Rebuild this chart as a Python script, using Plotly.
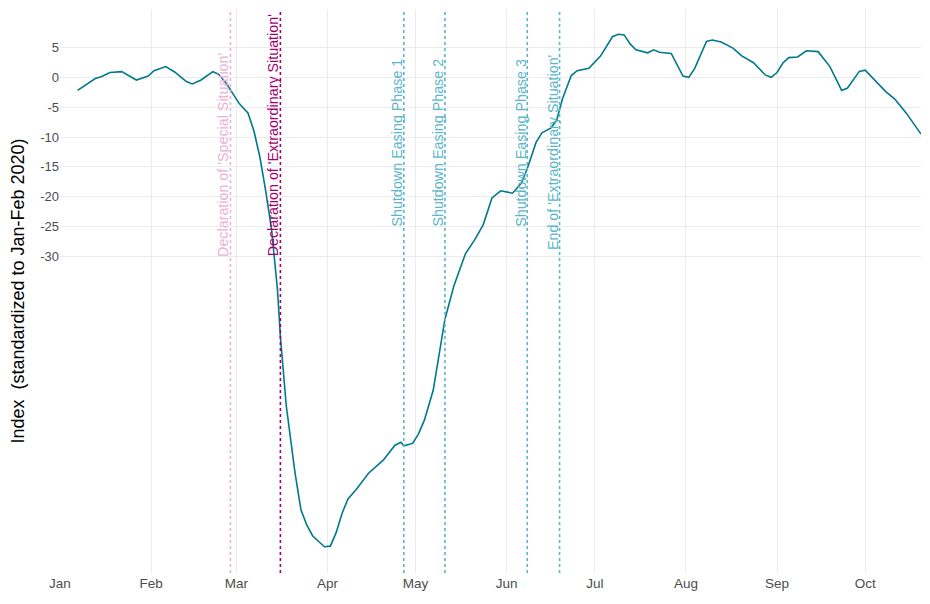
import plotly.graph_objects as go

# ---- data ----
dates = [
    "2020-01-07", "2020-01-13", "2020-01-15", "2020-01-18", "2020-01-22", "2020-01-25",
    "2020-01-27", "2020-01-31", "2020-02-02", "2020-02-06", "2020-02-09", "2020-02-13",
    "2020-02-15", "2020-02-18", "2020-02-22", "2020-02-24", "2020-02-27", "2020-02-28",
    "2020-03-01", "2020-03-02", "2020-03-05", "2020-03-07", "2020-03-09", "2020-03-11",
    "2020-03-13", "2020-03-15", "2020-03-16", "2020-03-18", "2020-03-21", "2020-03-23",
    "2020-03-25", "2020-03-27", "2020-03-31", "2020-04-02", "2020-04-04", "2020-04-06",
    "2020-04-08", "2020-04-11", "2020-04-15", "2020-04-20", "2020-04-24", "2020-04-26",
    "2020-04-27", "2020-04-30", "2020-05-02", "2020-05-04", "2020-05-07", "2020-05-10",
    "2020-05-11", "2020-05-14", "2020-05-18", "2020-05-21", "2020-05-24", "2020-05-27",
    "2020-05-30", "2020-06-03", "2020-06-06", "2020-06-08", "2020-06-11", "2020-06-13",
    "2020-06-16", "2020-06-18", "2020-06-20", "2020-06-23", "2020-06-25", "2020-06-29",
    "2020-07-01", "2020-07-03", "2020-07-07", "2020-07-09", "2020-07-11", "2020-07-13",
    "2020-07-15", "2020-07-19", "2020-07-21", "2020-07-23", "2020-07-27", "2020-07-31",
    "2020-08-02", "2020-08-04", "2020-08-08", "2020-08-10", "2020-08-13", "2020-08-17",
    "2020-08-20", "2020-08-24", "2020-08-28", "2020-08-30", "2020-09-01", "2020-09-03",
    "2020-09-05", "2020-09-08", "2020-09-11", "2020-09-15", "2020-09-19", "2020-09-23",
    "2020-09-25", "2020-09-29", "2020-10-01", "2020-10-08", "2020-10-11", "2020-10-15",
    "2020-10-20",
]
index_values = [
    -2.2, -0.2, 0.1, 0.8, 0.95, 0.1,
    -0.45, 0.2, 1.1, 1.8, 0.9, -0.7,
    -1.1, -0.45, 0.95, 0.5, -1.3, -2.1,
    -3.8, -4.4, -6.0, -9.0, -13.3, -19.0,
    -25.5, -35.5, -43.4, -55.0, -66.3, -72.4,
    -75.0, -76.8, -78.6, -78.5, -76.2, -73.0,
    -70.6, -68.9, -66.3, -64.1, -61.6, -61.1,
    -61.7, -61.3, -59.7, -57.4, -52.4, -43.5,
    -40.5, -35.0, -29.5, -27.3, -24.7, -20.2,
    -19.0, -19.4, -17.7, -15.3, -10.9, -9.3,
    -8.5, -7.2, -3.6, 0.3, 1.1, 1.5,
    2.6, 3.6, 6.8, 7.2, 7.1, 5.6,
    4.6, 4.1, 4.6, 4.2, 4.0, 0.2,
    0.0, 1.5, 6.0, 6.25, 5.9, 4.9,
    3.6, 2.45, 0.4, 0.0, 0.8, 2.4,
    3.3, 3.4, 4.45, 4.3, 1.8, -2.2,
    -1.8, 1.0, 1.2, -2.4, -3.6, -6.0,
    -9.5,
]

event_dates = ["2020-02-28", "2020-03-16", "2020-04-27", "2020-05-11", "2020-06-08", "2020-06-19"]
event_labels = [
    "Declaration of 'Special Situation'",
    "Declaration of 'Extraordinary Situation'",
    "Shutdown Easing Phase 1",
    "Shutdown Easing Phase 2",
    "Shutdown Easing Phase 3",
    "End of 'Extraordinary Situation'",
]
event_label_y = [-30, -30, -25, -25, -25, -29]
event_colors = ["#ebb1d6", "#a0006e", "#5cb5c9", "#5cb5c9", "#5cb5c9", "#5cb5c9"]

y_ticks = [5, 0, -5, -10, -15, -20, -25, -30]
y_title = "Index\u00a0 (standardized to Jan-Feb 2020)"

# ---- figure ----
fig = go.Figure()
fig.add_trace(go.Scatter(
    x=dates, y=index_values, mode="lines",
    line=dict(color="#00798c", width=1.6),
    hoverinfo="x+y", showlegend=False,
))

for d, lab, ly, col in zip(event_dates, event_labels, event_label_y, event_colors):
    fig.add_shape(type="line", xref="x", yref="paper", x0=d, x1=d, y0=0, y1=1,
                  line=dict(color=col, width=1.6, dash="dot"), layer="above")
    fig.add_annotation(x=d, y=ly, xref="x", yref="y", text=lab, showarrow=False,
                       textangle=-90, xanchor="right", yanchor="bottom", xshift=3, yshift=-2,
                       font=dict(family="Liberation Sans, Arial", size=14.3, color=col))

fig.update_layout(
    width=930, height=604,
    margin=dict(l=60, r=9, t=9, b=31),
    paper_bgcolor="white", plot_bgcolor="white",
    font=dict(family="Liberation Sans, Arial", size=13, color="#4d4d4d"),
    xaxis=dict(
        type="date", range=["2020-01-01", "2020-10-20"],
        tickformat="%b", dtick="M1", tick0="2020-01-01",
        showgrid=True, gridcolor="#ebebeb", gridwidth=1.1,
        zeroline=False, showline=False, ticks="",
        tickfont=dict(size=13.5, color="#4d4d4d"),
    ),
    yaxis=dict(
        range=[-83.0, 11.44], tickvals=y_ticks,
        ticktext=[str(v) for v in y_ticks],
        showgrid=True, gridcolor="#ebebeb", gridwidth=1.1,
        zeroline=False, showline=False, ticks="",
        tickfont=dict(size=13, color="#4d4d4d"),
        title=dict(text=y_title, font=dict(size=18, color="black"), standoff=10),
        automargin=False,
    ),
)

fig.write_html("out.html")
